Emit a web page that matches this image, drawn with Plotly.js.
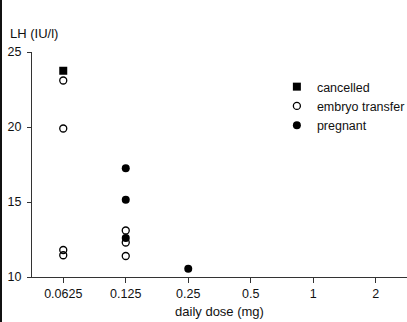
<!DOCTYPE html>
<html>
<head>
<meta charset="utf-8">
<script src="https://cdn.plot.ly/plotly-3.0.1.min.js"></script>
<style>
html,body{margin:0;padding:0;background:#fff;}
#chart{width:405px;height:322px;border-left:2px solid #111;}
</style>
</head>
<body>
<div id="chart"></div>
<script>
// data
var doseTicks = [0.0625, 0.125, 0.25, 0.5, 1, 2];
var doseTickText = ["0.0625", "0.125", "0.25", "0.5", "1", "2"];

var cancelledDose = [0.0625];
var cancelledLH = [23.75];

var transferDose = [0.0625, 0.0625, 0.0625, 0.0625, 0.125, 0.125, 0.125];
var transferLH = [23.1, 19.9, 11.8, 11.45, 13.1, 12.3, 11.4];

var pregnantDose = [0.125, 0.125, 0.125, 0.25];
var pregnantLH = [17.25, 15.15, 12.6, 10.55];

var yTicks = [10, 15, 20, 25];

var fam = "Liberation Sans, Arial, sans-serif";
var ink = "#111";

var traces = [
  {x: cancelledDose, y: cancelledLH, name: "cancelled", type: "scatter", mode: "markers",
   marker: {symbol: "square", size: 8, color: "#000"}},
  {x: transferDose, y: transferLH, name: "embryo transfer", type: "scatter", mode: "markers",
   marker: {symbol: "circle-open", size: 7, color: "#000", line: {width: 1.3, color: "#000"}}},
  {x: pregnantDose, y: pregnantLH, name: "pregnant", type: "scatter", mode: "markers",
   marker: {symbol: "circle", size: 8, color: "#000"}}
];

var layout = {
  width: 405, height: 322,
  margin: {l: 30, r: 0, t: 52, b: 45, autoexpand: false},
  paper_bgcolor: "#fff", plot_bgcolor: "#fff",
  font: {family: fam, size: 12.5, color: ink},
  showlegend: true,
  legend: {x: 0.653, y: 0.911, xanchor: "left", yanchor: "top",
           font: {family: fam, size: 12.5, color: ink},
           bgcolor: "rgba(0,0,0,0)", itemwidth: 30, tracegroupgap: 0},
  xaxis: {
    type: "log",
    range: [Math.log10(0.0625 / Math.SQRT2), Math.log10(2 * Math.SQRT2)],
    tickvals: doseTicks, ticktext: doseTickText,
    tickfont: {family: fam, size: 12.5, color: ink},
    showline: true, linecolor: "#333", linewidth: 1,
    ticks: "outside", ticklen: 5, tickcolor: "#333",
    showgrid: false, zeroline: false, automargin: false,
    title: {text: "daily dose (mg)", font: {family: fam, size: 13, color: ink}, standoff: 6}
  },
  yaxis: {
    range: [10, 25],
    tickvals: yTicks,
    showline: true, linecolor: "#333", linewidth: 1,
    ticks: "outside", ticklen: 4, tickcolor: "#333",
    ticklabelstandoff: 3,
    showgrid: false, zeroline: false, automargin: false,
    tickfont: {family: fam, size: 12.5, color: ink}
  },
  annotations: [
    {text: "LH (IU/l)", xref: "paper", yref: "paper", x: -0.064, y: 1.084,
     xanchor: "left", yanchor: "middle", showarrow: false,
     font: {family: fam, size: 13, color: ink}}
  ]
};

Plotly.newPlot("chart", traces, layout, {displayModeBar: false, staticPlot: true});
</script>
</body>
</html>
